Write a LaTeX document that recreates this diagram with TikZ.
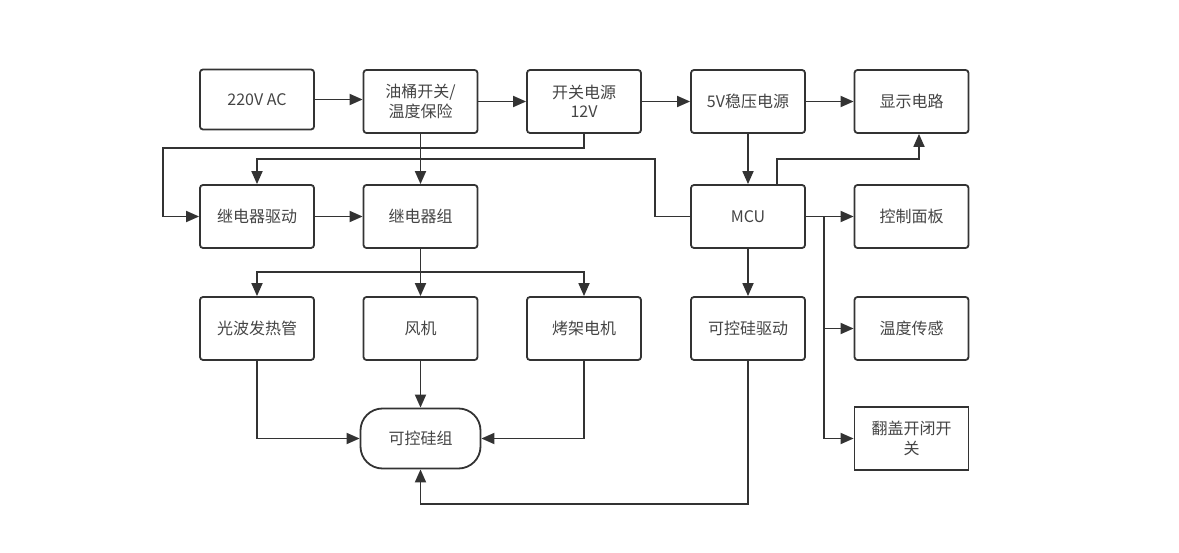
\documentclass[tikz,border=0pt]{standalone}
\usepackage{fontspec}
\setmainfont{Noto Sans CJK SC}
\usetikzlibrary{arrows.meta}
\definecolor{ln}{HTML}{333333}
\definecolor{tx}{HTML}{444444}
\begin{document}
\begin{tikzpicture}[x=1pt,y=-1pt,
  box/.style={draw=ln,line width=1.8pt,rounded corners=3pt,minimum width=114pt,minimum height=63pt,inner sep=0pt,align=center,text=tx,font=\fontsize{16}{19.5}\selectfont},
  sqbox/.style={box,rounded corners=0pt},
  conn/.style={draw=ln,line width=1.8pt},
  arr/.style={conn,-{Triangle[length=13pt,width=11pt]}}]
\useasboundingbox (0,0) rectangle (1179,553);
% row 1
\node[box,minimum height=60pt] (ac) at (257,99.5) {220V AC};
\node[box] (oil) at (420.5,101.5) {油桶开关/\\温度保险};
\node[box] (sw) at (584,101.5) {开关电源\\12V};
\node[box] (v5) at (748,101.5) {5V稳压电源};
\node[box] (disp) at (911.5,101.5) {显示电路};
% row 2
\node[box] (rd) at (257,216.5) {继电器驱动};
\node[box] (rg) at (420.5,216.5) {继电器组};
\node[box] (mcu) at (748,216.5) {MCU};
\node[box] (ctrl) at (911.5,216.5) {控制面板};
% row 3
\node[box] (heat) at (257,328.5) {光波发热管};
\node[box] (fan) at (420.5,328.5) {风机};
\node[box] (grill) at (584,328.5) {烤架电机};
\node[box] (scrd) at (748,328.5) {可控硅驱动};
\node[box] (temp) at (911.5,328.5) {温度传感};
% row 4
\node[box,rounded corners=22pt,minimum width=120pt,minimum height=60pt] (scg) at (420.5,438.5) {可控硅组};
\node[sqbox] (lid) at (911.5,438.5) {翻盖开闭开\\关};
% coordinates
\coordinate (c1) at (163,148);
\coordinate (c2) at (655,159);
\coordinate (c3) at (777,159);
\coordinate (c4) at (919,159);
\coordinate (c5) at (824,216.5);
\coordinate (c6) at (748,504);
\coordinate (c7) at (420.5,272);
% connectors
\draw[arr] (ac.east) -- (ac.east -| oil.west);
\draw[arr] (oil.east) -- (sw.west);
\draw[arr] (sw.east) -- (v5.west);
\draw[arr] (v5.east) -- (disp.west);
\draw[arr] (sw.south) |- (c1) |- (rd.west);
\draw[arr] (oil.south) -- (rg.north);
\draw[arr] (rd.east) -- (rg.west);
\draw[arr] (mcu.west) -| (c2) -| (rd.north);
\draw[arr] (v5.south) -- (mcu.north);
\draw[arr] (c3 |- mcu.north) -- (c3) -- (c4) -- (c4 |- disp.south);
\draw[arr] (mcu.east) -- (ctrl.west);
\draw[arr] (mcu.east) -- (c5) |- (temp.west);
\draw[arr] (c5) |- (lid.west);
\draw[arr] (mcu.south) -- (scrd.north);
\draw[arr] (scrd.south) -- (c6) -| (scg.south);
\draw[arr] (rg.south) -- (fan.north);
\draw[arr] (c7) -| (heat.north);
\draw[arr] (c7) -| (grill.north);
\draw[arr] (fan.south) -- (scg.north);
\draw[arr] (heat.south) |- (scg.west);
\draw[arr] (grill.south) |- (scg.east);
\end{tikzpicture}
\end{document}
